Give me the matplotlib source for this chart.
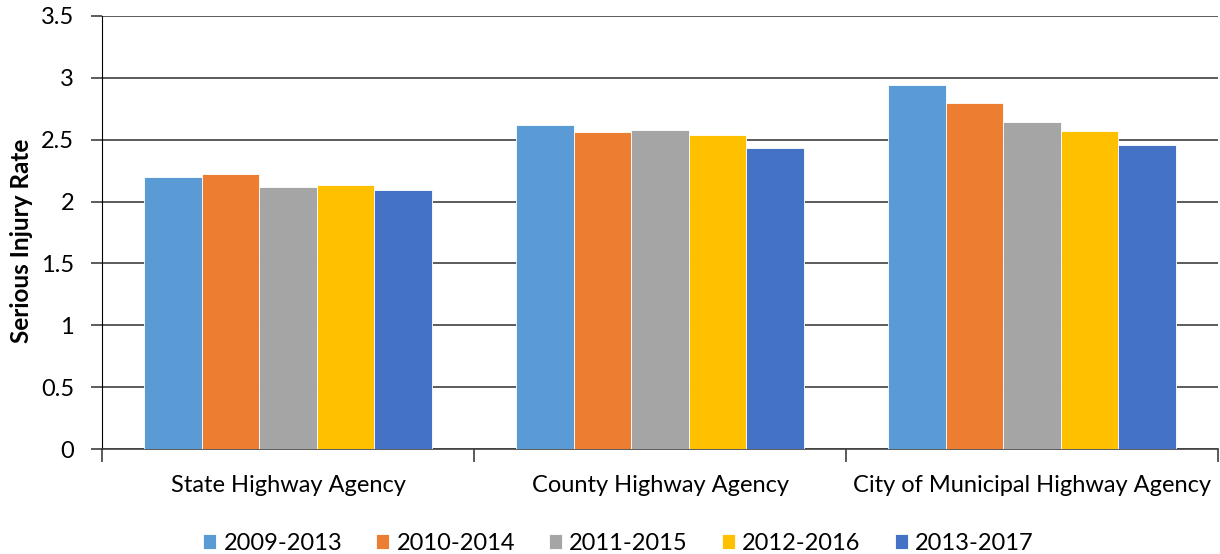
import numpy as np
import matplotlib
matplotlib.use("Agg")
import matplotlib.pyplot as plt

plt.rcParams['font.family'] = ['Lato', 'DejaVu Sans']

# agencies on the x axis and the five rolling periods
categories = ["State Highway Agency", "County Highway Agency", "City of Municipal Highway Agency"]
periods = ["2009-2013", "2010-2014", "2011-2015", "2012-2016", "2013-2017"]

rate_2009_2013 = [2.20, 2.62, 2.94]
rate_2010_2014 = [2.22, 2.56, 2.80]
rate_2011_2015 = [2.12, 2.58, 2.64]
rate_2012_2016 = [2.13, 2.54, 2.57]
rate_2013_2017 = [2.09, 2.43, 2.46]

colors = ["#5B9BD5", "#ED7D31", "#A5A5A5", "#FFC000", "#4472C4"]

series = [rate_2009_2013, rate_2010_2014, rate_2011_2015, rate_2012_2016, rate_2013_2017]

fig = plt.figure(figsize=(12.2, 5.54), dpi=100)
ax = fig.add_axes([102/1220, 105/554, 1116/1220, 433/554])

x = np.arange(len(categories))
w = 0.155
for i, vals in enumerate(series):
    ax.bar(x + (i - 2) * w, vals, width=w, color=colors[i],
           edgecolor="white", linewidth=0.6, label=periods[i], zorder=3)

ax.set_xlim(-0.5, 2.5)
ax.set_ylim(0, 3.5)
ax.set_yticks(np.arange(0, 3.51, 0.5))
ax.set_yticklabels(["0", "0.5", "1", "1.5", "2", "2.5", "3", "3.5"])
ax.yaxis.grid(True, color="#404040", linewidth=1.2, zorder=0)
ax.tick_params(axis="y", length=8, color="#404040", width=1.2, labelsize=17, pad=12)

ax.set_xticks(x)
ax.set_xticklabels(categories)
ax.set_xticks([-0.5, 0.5, 1.5, 2.5], minor=True)
ax.tick_params(axis="x", which="major", length=0, labelsize=17, pad=19)
ax.tick_params(axis="x", which="minor", length=9, color="#404040", width=1.2)

for s in ["top", "right"]:
    ax.spines[s].set_visible(False)
ax.spines["left"].set_color("black")
ax.spines["bottom"].set_color("#404040")
ax.spines["bottom"].set_linewidth(1.2)

ax.set_ylabel("Serious Injury Rate", fontsize=17.5, fontweight="bold")
ax.yaxis.set_label_coords(-0.062, 0.48)

handles, labels = ax.get_legend_handles_labels()
fig.legend(handles, labels, loc="lower center", bbox_to_anchor=(0.507, -0.038), ncol=5,
           frameon=False, fontsize=17, handlelength=0.55, handleheight=0.65,
           handletextpad=0.3, columnspacing=1.45)

fig.savefig("out.png", dpi=100)
